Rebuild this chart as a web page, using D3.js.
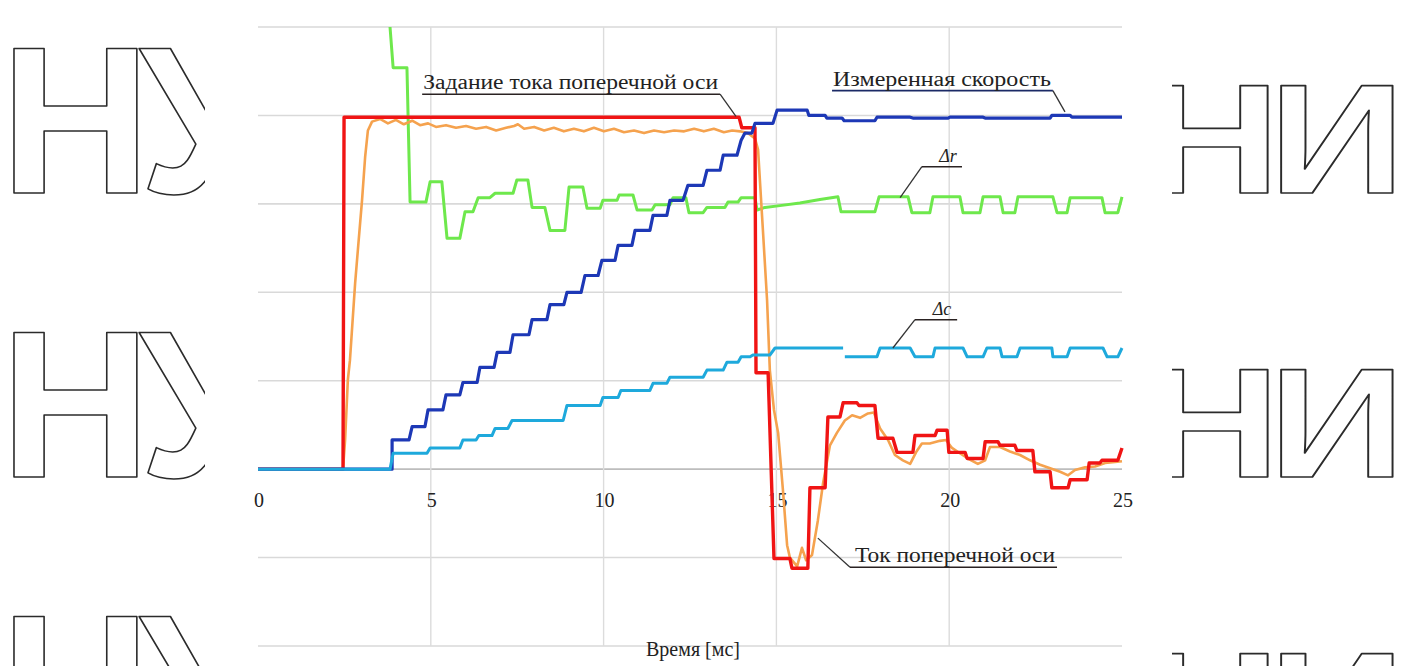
<!DOCTYPE html>
<html>
<head>
<meta charset="utf-8">
<script src="https://cdn.jsdelivr.net/npm/d3@7"></script>
<style>
  html, body { margin: 0; padding: 0; background: #fff; }
  svg { display: block; }
</style>
</head>
<body>
<svg id="chart" width="1408" height="666"></svg>
<script>
// ---- data: time in ms, signal levels in grid divisions ----
const timeTicks = [0, 5, 10, 15, 20, 25];
const gridLevels = [-2, -1, 0, 1, 2, 3, 4, 5];
const gridTimes = [5, 10, 15, 20];

// q-axis current reference (red)
const currentSetpoint = [
  [0,0],[2.46,0],[2.49,3.98],[13.92,3.98],[14.00,3.86],[14.38,3.86],[14.41,1.09],
  [14.76,1.09],[14.93,-1.01],[15.39,-1.01],[15.45,-1.12],[15.91,-1.12],[15.97,-0.21],
  [16.41,-0.21],[16.49,0.59],[16.84,0.59],[16.93,0.75],[17.33,0.75],[17.39,0.72],
  [17.85,0.72],[17.94,0.35],[18.37,0.35],[18.49,0.19],[18.95,0.19],[19.01,0.38],
  [19.59,0.38],[19.65,0.44],[19.94,0.44],[19.99,0.19],[20.46,0.19],[20.52,0.12],
  [20.98,0.12],[21.04,0.31],[21.41,0.31],[21.47,0.27],[21.90,0.27],[21.96,0.21],
  [22.42,0.21],[22.48,-0.03],[22.92,-0.03],[22.97,-0.21],[23.44,-0.21],[23.50,-0.12],
  [23.99,-0.12],[24.05,0.07],[24.36,0.07],[24.42,0.10],[24.88,0.10],[25,0.24]
];

// measured q-axis current (orange)
const currentMeasured = [
  [0,0],[2.46,0],[2.52,0.33],[2.60,1.01],[2.66,1.23],[2.81,2.10],[2.89,2.48],[3.01,3.04],
  [3.10,3.53],[3.18,3.83],[3.30,3.93],[3.53,3.96],[3.76,3.91],[3.99,3.95],[4.22,3.90],
  [4.46,3.94],[4.69,3.89],[4.92,3.91],[5.15,3.87],[5.44,3.89],[5.73,3.86],[6.02,3.88],
  [6.31,3.85],[6.60,3.87],[6.89,3.83],[7.18,3.86],[7.41,3.88],[7.52,3.90],[7.70,3.85],
  [7.99,3.87],[8.28,3.83],[8.56,3.86],[8.85,3.82],[9.14,3.85],[9.43,3.82],[9.72,3.86],
  [10.01,3.82],[10.30,3.85],[10.59,3.81],[10.88,3.83],[11.17,3.80],[11.46,3.83],
  [11.75,3.81],[12.04,3.83],[12.33,3.82],[12.62,3.85],[12.90,3.82],[13.19,3.85],
  [13.48,3.81],[13.72,3.83],[13.95,3.82],[14.18,3.80],[14.38,3.74],[14.47,3.61],
  [14.61,2.70],[14.73,1.91],[14.81,1.12],[14.93,0.67],[15.05,0.41],[15.19,-0.24],
  [15.31,-0.86],[15.39,-1.00],[15.60,-1.10],[15.74,-0.89],[15.86,-1.03],[16.03,-0.97],
  [16.20,-0.58],[16.35,-0.16],[16.55,0.27],[16.75,0.41],[16.98,0.55],[17.19,0.61],
  [17.42,0.58],[17.65,0.63],[17.82,0.64],[18.00,0.46],[18.23,0.33],[18.43,0.16],
  [18.66,0.10],[18.87,0.06],[19.04,0.19],[19.21,0.29],[19.44,0.29],[19.73,0.32],
  [19.91,0.33],[20.08,0.24],[20.31,0.18],[20.54,0.12],[20.83,0.06],[21.04,0.10],
  [21.18,0.25],[21.47,0.25],[21.76,0.20],[22.05,0.16],[22.34,0.10],[22.63,0.05],
  [22.92,0.01],[23.21,-0.03],[23.44,-0.07],[23.64,-0.01],[23.93,0.02],[24.22,0.03],
  [24.51,0.07],[24.80,0.08],[25,0.09]
];

// measured speed (blue)
const measuredSpeed = [
  [0,0],[3.88,0],[3.88,0.33],[4.37,0.33],[4.46,0.48],[4.83,0.48],[4.92,0.67],[5.35,0.67],
  [5.44,0.84],[5.84,0.84],[5.93,0.98],[6.34,0.98],[6.42,1.15],[6.83,1.15],[6.92,1.32],
  [7.29,1.32],[7.38,1.52],[7.84,1.52],[7.93,1.69],[8.36,1.69],[8.45,1.86],[8.85,1.86],
  [8.94,2.00],[9.35,2.00],[9.46,2.19],[9.84,2.19],[9.95,2.36],[10.33,2.36],[10.42,2.53],
  [10.82,2.53],[10.91,2.70],[11.34,2.70],[11.43,2.87],[11.83,2.87],[11.92,3.04],
  [12.30,3.04],[12.44,3.21],[12.88,3.21],[12.99,3.38],[13.37,3.38],[13.46,3.55],
  [13.86,3.55],[13.98,3.72],[14.09,3.80],[14.29,3.80],[14.38,3.91],[14.90,3.91],
  [15.02,4.06],[15.89,4.06],[15.94,4.00],[16.41,4.00],[16.46,3.97],[16.90,3.97],
  [16.96,3.94],[17.85,3.94],[17.91,3.98],[18.87,3.98],[18.95,3.97],[19.97,3.97],
  [20.02,3.98],[20.98,3.98],[21.04,3.97],[22.92,3.97],[22.97,4.00],[23.50,4.00],
  [23.55,3.98],[25,3.98]
];

// Δr (green)
const deltaR = [
  [3.82,5.00],[3.91,4.54],[4.31,4.54],[4.40,3.02],[4.86,3.02],[4.98,3.25],[5.32,3.25],
  [5.47,2.61],[5.84,2.61],[5.99,2.91],[6.22,2.91],[6.37,3.07],[6.71,3.07],[6.86,3.12],
  [7.38,3.12],[7.49,3.27],[7.81,3.27],[7.93,2.96],[8.30,2.96],[8.45,2.70],[8.88,2.70],
  [9.00,3.19],[9.40,3.19],[9.52,2.95],[9.90,2.95],[9.98,3.04],[10.39,3.04],[10.45,3.10],
  [10.85,3.10],[10.97,2.93],[11.40,2.93],[11.49,2.99],[11.92,2.99],[12.01,3.07],
  [12.38,3.07],[12.47,2.90],[12.88,2.90],[12.99,2.96],[13.51,2.96],[13.60,3.02],
  [13.89,3.02],[13.98,3.07],[14.38,3.07],[14.44,2.93],[14.67,2.96],[15.10,2.98],
  [15.68,3.01],[16.26,3.05],[16.78,3.08],[16.87,2.91],[17.85,2.91],[17.97,3.08],
  [18.81,3.08],[18.92,2.90],[19.44,2.90],[19.53,3.08],[20.31,3.08],[20.40,2.90],
  [20.89,2.90],[20.98,3.08],[21.47,3.08],[21.56,2.90],[21.90,2.90],[21.99,3.08],
  [23.00,3.08],[23.12,2.90],[23.41,2.90],[23.50,3.07],[24.42,3.07],[24.51,2.90],
  [24.88,2.90],[25,3.08]
];

// Δc (cyan); null marks the short break in the trace
const deltaC = [
  [0,0],[3.82,0],[3.91,0.18],[4.89,0.18],[4.98,0.24],[5.84,0.24],[5.93,0.33],[6.31,0.33],
  [6.39,0.38],[6.77,0.38],[6.86,0.46],[7.23,0.46],[7.35,0.55],[8.83,0.55],[8.94,0.72],
  [9.90,0.72],[9.98,0.81],[10.42,0.81],[10.50,0.89],[11.34,0.89],[11.43,0.97],
  [11.83,0.97],[11.92,1.04],[12.88,1.04],[12.99,1.12],[13.46,1.12],[13.57,1.21],
  [13.89,1.21],[13.98,1.27],[14.24,1.27],[14.32,1.29],[14.81,1.29],[14.96,1.37],
  [16.93,1.37],[16.95,null],[16.98,1.27],[17.91,1.27],[18.00,1.37],[18.87,1.37],
  [19.01,1.27],[19.53,1.27],[19.59,1.37],[20.40,1.37],[20.52,1.27],[20.98,1.27],
  [21.09,1.37],[21.47,1.37],[21.53,1.27],[21.96,1.27],[22.05,1.37],[22.97,1.37],
  [23.00,1.27],[23.41,1.27],[23.50,1.37],[24.45,1.37],[24.57,1.27],[24.88,1.27],[25,1.37]
];

const axisTitle = "Время [мс]";

// callout labels: text, underline span (ms) and level, point the leader reaches
const callouts = [
  { text: "Задание тока поперечной оси", t0: 4.75, t1: 13.37, v: 4.24, tp: 13.83, vp: 3.99, from: "end" },
  { text: "Измеренная скорость",          t0: 16.61, t1: 23.00, v: 4.28, tp: 23.35, vp: 4.04, from: "end" },
  { text: "Δr",                           t0: 19.21, t1: 20.37, v: 3.42, tp: 18.58, vp: 3.07, from: "start" },
  { text: "Δc",                           t0: 19.01, t1: 20.23, v: 1.69, tp: 18.37, vp: 1.37, from: "start" },
  { text: "Ток поперечной оси",           t0: 17.13, t1: 23.12, v: -1.11, tp: 16.20, vp: -0.78, from: "start" }
];

// ---- layout ----
const svg = d3.select("#chart");
const x = d3.scaleLinear().domain([0, 25]).range([258, 1122]);
const y = d3.scaleLinear().domain([-2, 5]).range([646, 27]);

// background logo letters in outline, each side in its own clipped viewport
function logoPane(px, width) {
  return svg.append("svg")
    .attr("x", px).attr("y", 0)
    .attr("width", width).attr("height", 666)
    .append("g")
    .attr("fill", "none")
    .attr("stroke", "#2b2b2b")
    .attr("stroke-width", 1.6)
    .attr("stroke-linejoin", "round")
    .attr("font-family", "Liberation Sans, Arial, sans-serif")
    .attr("font-weight", "bold");
}
const logoLeft = logoPane(0, 205);
const logoRight = logoPane(1172, 236);
[193, 477, 761].forEach(base => {
  logoLeft.append("text")
    .attr("x", 0).attr("y", base)
    .attr("font-size", 209)
    .attr("letter-spacing", -12)
    .text("НУ");
  logoRight.append("text")
    .attr("transform", `translate(${1143 - 1172},${base}) scale(1.22,1)`)
    .attr("font-size", 156)
    .attr("letter-spacing", -9.7)
    .text("НИ");
});

// grid
const grid = svg.append("g");
grid.selectAll("line.h").data(gridLevels).join("line")
  .attr("class", "h")
  .attr("x1", x(0)).attr("x2", x(25))
  .attr("y1", d => y(d)).attr("y2", d => y(d))
  .attr("stroke", d => d === 0 ? "#bdbdbd" : "#d9d9d9")
  .attr("stroke-width", 1.6);
grid.selectAll("line.v").data(gridTimes).join("line")
  .attr("class", "v")
  .attr("x1", d => x(d)).attr("x2", d => x(d))
  .attr("y1", y(5)).attr("y2", y(-2))
  .attr("stroke", "#dcdcdc")
  .attr("stroke-width", 1.4);

// x tick labels along the zero line
svg.append("g")
  .attr("font-family", "Liberation Serif, Times New Roman, serif")
  .attr("font-size", 20)
  .attr("fill", "#222")
  .attr("text-anchor", "middle")
  .selectAll("text").data(timeTicks).join("text")
  .attr("x", d => x(d) + 1)
  .attr("y", y(0) + 38)
  .text(d => d);

svg.append("text")
  .attr("x", 693).attr("y", 656)
  .attr("text-anchor", "middle")
  .attr("font-family", "Liberation Serif, Times New Roman, serif")
  .attr("font-size", 20)
  .attr("fill", "#222")
  .text(axisTitle);

// traces
const line = d3.line()
  .defined(d => d[1] !== null)
  .x(d => x(d[0]))
  .y(d => y(d[1]));

const traces = [
  { data: deltaR,          color: "#6ee84c", width: 3 },
  { data: currentMeasured, color: "#f5a24e", width: 2.6 },
  { data: currentSetpoint, color: "#f01414", width: 3.4 },
  { data: measuredSpeed,   color: "#1d38b6", width: 3.2 },
  { data: deltaC,          color: "#1ea9dc", width: 3 }
];
svg.append("g").selectAll("path").data(traces).join("path")
  .attr("d", d => line(d.data))
  .attr("fill", "none")
  .attr("stroke", d => d.color)
  .attr("stroke-width", d => d.width)
  .attr("stroke-linejoin", "round");

// callouts
const notes = svg.append("g");
callouts.forEach(c => {
  const xa = x(c.t0), xb = x(c.t1), yu = y(c.v);
  const xs = c.from === "end" ? xb : xa;
  const isDelta = c.text.startsWith("Δ");
  notes.append("line")
    .attr("x1", xa).attr("x2", xb).attr("y1", yu).attr("y2", yu)
    .attr("stroke", c.text === "Измеренная скорость" ? "#1b2a66" : "#2a2222")
    .attr("stroke-width", 1.6);
  notes.append("line")
    .attr("x1", xs).attr("y1", yu)
    .attr("x2", x(c.tp)).attr("y2", y(c.vp))
    .attr("stroke", "#333")
    .attr("stroke-width", 1.3);
  const t = notes.append("text")
    .attr("y", yu - 5)
    .attr("font-family", "Liberation Serif, Times New Roman, serif")
    .attr("fill", "#222")
    .text(c.text);
  if (isDelta) {
    t.attr("x", (xa + xb) / 2 + 6).attr("text-anchor", "middle")
     .attr("font-size", 18).attr("font-style", "italic");
  } else {
    t.attr("x", xa + (c.from === "start" ? 5 : 1))
     .attr("font-size", 20)
     .attr("textLength", xb - xa - (c.from === "start" ? 7 : 3))
     .attr("lengthAdjust", "spacingAndGlyphs");
  }
});
</script>
</body>
</html>
